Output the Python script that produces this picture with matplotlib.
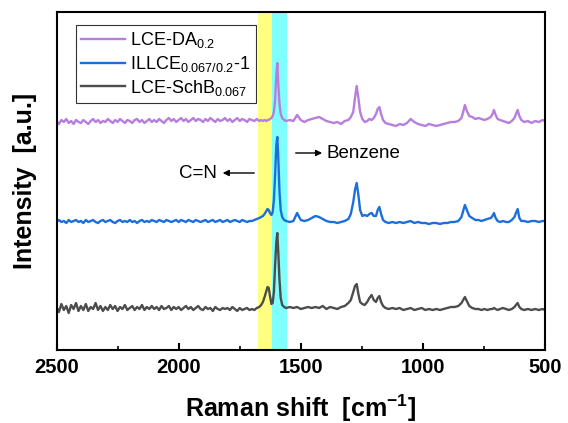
import matplotlib.pyplot as plt
import numpy as np

plt.rcParams['font.family'] = ['Liberation Sans', 'DejaVu Sans']
plt.rcParams['mathtext.fontset'] = 'custom'
plt.rcParams['mathtext.rm'] = 'Liberation Sans'
plt.rcParams['mathtext.it'] = 'Liberation Sans:italic'
plt.rcParams['mathtext.bf'] = 'Liberation Sans:bold'

shift = np.concatenate([np.arange(2500, 1700, -10), [
    1700, 1690, 1680, 1670, 1662, 1655, 1648, 1641, 1636, 1631,
    1626, 1620, 1615, 1610, 1605, 1600, 1596, 1592, 1587, 1582,
    1576, 1568, 1560, 1545, 1530, 1515, 1500, 1485, 1470, 1455,
    1440, 1425, 1410, 1395, 1380, 1365, 1350, 1335, 1320, 1305,
    1295, 1285, 1278, 1271, 1264, 1257, 1248, 1238, 1228, 1219,
    1210, 1201, 1192, 1185, 1178, 1171, 1163, 1153, 1140, 1125,
    1110, 1095, 1080, 1065, 1050, 1035, 1020, 1005, 990, 975,
    960, 945, 930, 915, 900, 885, 870, 855, 842, 835,
    828, 820, 810, 798, 785, 772, 760, 748, 736, 722,
    715, 709, 702, 694, 684, 672, 660, 648, 636, 625,
    619, 612, 605, 597, 585, 570, 555, 540, 525, 510,
    500]])

# stacked intensities (a.u.)
lce_da = np.array([
    229, 226, 230, 228, 231, 227, 229, 226, 230, 228,
    227, 230, 228, 226, 229, 231, 228, 230, 227, 229,
    228, 231, 229, 227, 230, 228, 231, 229, 227, 230,
    229, 227, 230, 231, 228, 230, 227, 229, 231, 228,
    230, 228, 231, 229, 227, 230, 232, 229, 231, 228,
    230, 232, 229, 231, 228, 230, 232, 229, 231, 230,
    228, 231, 229, 232, 230, 228, 231, 229, 230, 232,
    229, 231, 228, 230, 232, 229, 231, 230, 228, 231,
    230, 229, 231, 229, 230, 229, 230, 229, 230, 230,
    231, 232, 234, 238, 250, 275, 287, 266, 246, 236,
    232, 230, 229, 230, 229, 235, 230, 228, 230, 231,
    232, 233, 231, 229, 228, 227, 228, 226, 229, 230,
    233, 238, 252, 264, 252, 238, 231, 228, 229, 231,
    230, 232, 236, 241, 243, 236, 230, 227, 226, 225,
    224, 226, 225, 227, 231, 228, 226, 225, 224, 226,
    225, 224, 225, 226, 227, 228, 228, 229, 232, 238,
    245, 239, 234, 233, 231, 232, 231, 230, 231, 233,
    236, 240, 235, 231, 230, 229, 228, 227, 229, 232,
    236, 240, 234, 230, 228, 229, 227, 229, 228, 230,
    229])

illce = np.array([
    128, 130, 128, 129, 127, 130, 128, 129, 130, 128,
    129, 127, 130, 128, 129, 130, 128, 127, 129, 130,
    128, 129, 130, 128, 127, 129, 130, 128, 129, 128,
    130, 128, 129, 127, 129, 130, 128, 129, 128, 130,
    129, 128, 130, 129, 128, 130, 129, 128, 129, 130,
    128, 130, 129, 128, 130, 129, 128, 130, 129, 128,
    129, 130, 128, 129, 130, 128, 129, 130, 128, 129,
    130, 128, 129, 130, 129, 128, 130, 129, 128, 129,
    129, 130, 131, 132, 133, 134, 136, 139, 141, 140,
    137, 135, 138, 150, 175, 205, 213, 192, 158, 140,
    133, 130, 129, 128, 129, 137, 130, 129, 130, 132,
    134, 133, 131, 129, 128, 128, 127, 128, 129, 131,
    136, 148, 160, 167, 155, 140, 134, 135, 134, 136,
    137, 134, 134, 140, 143, 136, 130, 128, 127, 128,
    127, 128, 127, 128, 129, 127, 128, 127, 127, 126,
    127, 127, 126, 127, 127, 128, 128, 129, 133, 139,
    145, 140, 134, 132, 130, 130, 129, 130, 131, 132,
    134, 137, 132, 129, 128, 129, 128, 128, 130, 133,
    137, 141, 132, 129, 129, 128, 129, 129, 128, 129,
    129])

lce_schb = np.array([
    43, 38, 46, 40, 44, 37, 45, 41, 47, 39,
    44, 40, 46, 39, 43, 41, 47, 40, 44, 39,
    43, 40, 45, 41, 44, 39, 43, 41, 45, 40,
    42, 44, 40, 43, 41, 45, 40, 43, 41, 44,
    41, 43, 40, 44, 41, 42, 44, 40, 43, 41,
    43, 40, 42, 44, 41, 43, 40, 42, 44, 41,
    40, 43, 41, 42, 39, 43, 41, 40, 42, 41,
    42, 40, 43, 41, 39, 42, 40, 41, 42, 40,
    41, 40, 42, 43, 45, 48, 53, 59, 63, 62,
    54, 46, 47, 58, 85, 108, 117, 98, 70, 52,
    45, 43, 42, 43, 42, 43, 41, 42, 43, 42,
    43, 42, 44, 41, 43, 42, 41, 43, 44, 47,
    50, 58, 64, 66, 56, 48, 46, 45, 48, 52,
    55, 50, 48, 52, 54, 48, 44, 42, 41, 42,
    41, 42, 40, 41, 42, 40, 41, 42, 40, 41,
    40, 41, 40, 41, 42, 43, 43, 44, 47, 50,
    53, 49, 44, 42, 41, 41, 40, 41, 40, 41,
    41, 42, 41, 40, 41, 42, 41, 40, 41, 43,
    45, 47, 43, 41, 40, 41, 40, 41, 40, 41,
    40])

labels = ['LCE-DA$_{0.2}$', 'ILLCE$_{0.067/0.2}$-1', 'LCE-SchB$_{0.067}$']
colors = ['#B67FDE', '#1C6FDB', '#4D4D4D']
cn_band = (1673, 1618)
benz_band = (1618, 1555)

fig = plt.figure(figsize=(5.68, 4.23), dpi=100)
ax = fig.add_axes([56.5/568, 1-350/423, 488.5/568, 338/423])

ax.axvspan(*cn_band, color='#FFFF80', lw=0, zorder=0)
ax.axvspan(*benz_band, color='#80FFFF', lw=0, zorder=0)

for y, lab, c in zip([lce_da, illce, lce_schb], labels, colors):
    ax.plot(shift, y, color=c, lw=1.7, label=lab)

ax.annotate('', xy=(1831, 177), xytext=(1679, 177),
            arrowprops=dict(arrowstyle='-|>', color='k', lw=1, mutation_scale=9))
ax.text(1843, 177, 'C=N', ha='right', va='center', fontsize=13.5)
ax.annotate('', xy=(1401, 197), xytext=(1532, 197),
            arrowprops=dict(arrowstyle='-|>', color='k', lw=1, mutation_scale=9))
ax.text(1393, 197, 'Benzene', ha='left', va='center', fontsize=13.5)

ax.set_xlim(2500, 500)
ax.set_ylim(0, 338)
ax.set_xticks([2500, 2000, 1500, 1000, 500])
ax.set_xticks([2250, 1750, 1250, 750], minor=True)
ax.set_yticks([])
ax.tick_params(axis='x', which='major', direction='in', length=5, width=1.5,
               labelsize=14.5, pad=6)
ax.tick_params(axis='x', which='minor', direction='in', length=3, width=1.2)
for lab in ax.get_xticklabels():
    lab.set_fontweight('bold')
for sp in ax.spines.values():
    sp.set_linewidth(1.5)

ax.set_xlabel(r'Raman shift  [cm$^{\mathbf{-1}}$]', fontsize=18, fontweight='bold', labelpad=11)
ax.set_ylabel('Intensity  [a.u.]', fontsize=18, fontweight='bold', labelpad=14)

leg = ax.legend(loc='upper left', bbox_to_anchor=(0.04, 0.9615), borderaxespad=0,
                fontsize=13, fancybox=False, edgecolor='#333333', framealpha=1,
                handlelength=2.4, handletextpad=0.3, labelspacing=0.2,
                borderpad=0.3)
leg.get_frame().set_linewidth(0.8)

fig.savefig('out.png', dpi=100)
